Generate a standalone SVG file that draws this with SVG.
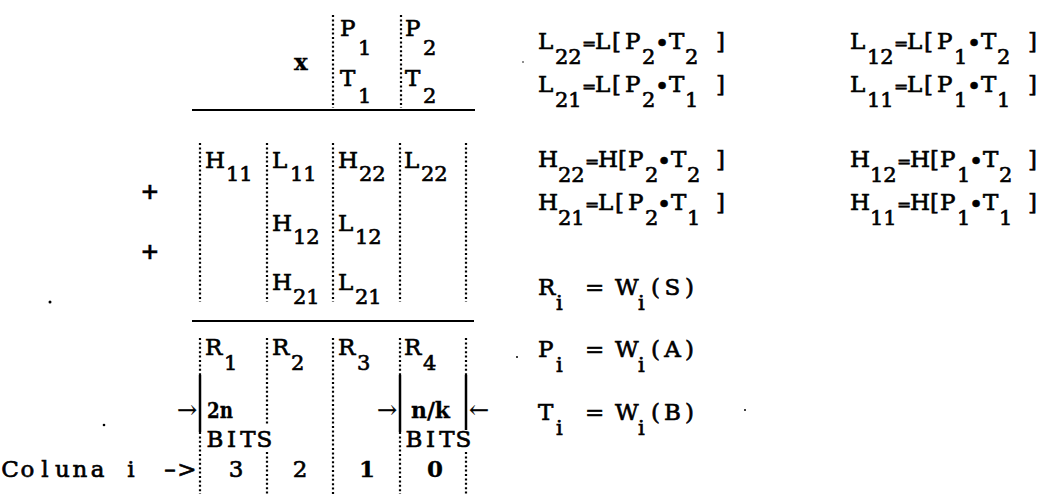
<svg xmlns="http://www.w3.org/2000/svg" width="1042" height="494" viewBox="0 0 1042 494">
<style>
.t{font-family:"DejaVu Serif","Liberation Serif",serif;font-size:23px;fill:#000;stroke:#000;stroke-width:0.65}
.s{font-size:21px}
.b{font-weight:bold;stroke-width:0.3}
.eq{font-size:17px}
.bu{font-size:24px}
.ar{font-size:24px;stroke-width:0.2}
.dot{stroke:#000;stroke-width:2.2;stroke-dasharray:2 2.4;fill:none}
.sol{stroke:#000;stroke-width:2.5;fill:none}
.rule{stroke:#000;stroke-width:2.2;fill:none}
.speck{fill:#000}
</style>
<rect width="1042" height="494" fill="#fff"/>
<g id="connectors">
<line class="dot" x1="333" y1="15" x2="333" y2="108"/>
<line class="dot" x1="401" y1="15" x2="401" y2="108"/>
<line class="rule" x1="192" y1="110" x2="475" y2="110"/>
<line class="dot" x1="200" y1="143" x2="200" y2="302"/>
<line class="dot" x1="267" y1="143" x2="267" y2="302"/>
<line class="dot" x1="333" y1="143" x2="333" y2="302"/>
<line class="dot" x1="400" y1="143" x2="400" y2="302"/>
<line class="dot" x1="466" y1="143" x2="466" y2="302"/>
<line class="rule" x1="192" y1="321" x2="474" y2="321"/>
<line class="dot" x1="200" y1="338" x2="200" y2="375"/>
<line class="sol" x1="200" y1="375" x2="200" y2="432"/>
<line class="dot" x1="200" y1="432" x2="200" y2="494"/>
<line class="dot" x1="267" y1="338" x2="267" y2="424"/>
<line class="dot" x1="267" y1="452" x2="267" y2="494"/>
<line class="dot" x1="333" y1="338" x2="333" y2="494"/>
<line class="dot" x1="400" y1="338" x2="400" y2="375"/>
<line class="sol" x1="400" y1="375" x2="400" y2="432"/>
<line class="dot" x1="400" y1="432" x2="400" y2="494"/>
<line class="dot" x1="466" y1="338" x2="466" y2="375"/>
<line class="sol" x1="466" y1="375" x2="466" y2="430"/>
<line class="dot" x1="466" y1="452" x2="466" y2="494"/>
</g>
<g id="multiplicand">
<text class="t b" x="294" y="70">x</text>
<text class="t" y="36"><tspan x="340">P</tspan><tspan class="s" x="358" y="55">1</tspan></text>
<text class="t" y="86"><tspan x="340">T</tspan><tspan class="s" x="358" y="103">1</tspan></text>
<text class="t" y="36"><tspan x="405">P</tspan><tspan class="s" x="423" y="55">2</tspan></text>
<text class="t" y="86"><tspan x="405">T</tspan><tspan class="s" x="423" y="103">2</tspan></text>
</g>
<g id="partials">
<text class="t b" x="150" y="199" text-anchor="middle">+</text>
<text class="t b" x="150" y="259" text-anchor="middle">+</text>
<text class="t" y="168"><tspan x="205">H</tspan><tspan class="s" x="226" y="181">11</tspan></text>
<text class="t" y="168"><tspan x="272">L</tspan><tspan class="s" x="290" y="181">11</tspan></text>
<text class="t" y="168"><tspan x="338">H</tspan><tspan class="s" x="359" y="181">22</tspan></text>
<text class="t" y="168"><tspan x="404">L</tspan><tspan class="s" x="421" y="181">22</tspan></text>
<text class="t" y="231"><tspan x="272">H</tspan><tspan class="s" x="293" y="244">12</tspan></text>
<text class="t" y="231"><tspan x="338">L</tspan><tspan class="s" x="355" y="244">12</tspan></text>
<text class="t" y="290"><tspan x="272">H</tspan><tspan class="s" x="293" y="304">21</tspan></text>
<text class="t" y="290"><tspan x="338">L</tspan><tspan class="s" x="355" y="304">21</tspan></text>
</g>
<g id="result">
<text class="t" y="355"><tspan x="205">R</tspan><tspan class="s" x="224" y="370">1</tspan></text>
<text class="t" y="355"><tspan x="272">R</tspan><tspan class="s" x="291" y="370">2</tspan></text>
<text class="t" y="355"><tspan x="338">R</tspan><tspan class="s" x="357" y="370">3</tspan></text>
<text class="t" y="355"><tspan x="404">R</tspan><tspan class="s" x="423" y="370">4</tspan></text>
<text class="t ar" x="177" y="418">→</text>
<text class="t b" x="207" y="418" textLength="26" lengthAdjust="spacingAndGlyphs">2n</text>
<text class="t ar" x="377" y="418">→</text>
<text class="t b" x="411" y="418" textLength="39" lengthAdjust="spacingAndGlyphs">n/k</text>
<text class="t ar" x="469" y="418">←</text>
<text class="t" y="447" text-anchor="middle"><tspan x="215">B</tspan><tspan x="231.5">I</tspan><tspan x="248">T</tspan><tspan x="264.5">S</tspan></text>
<text class="t" y="447" text-anchor="middle"><tspan x="414">B</tspan><tspan x="430.5">I</tspan><tspan x="447">T</tspan><tspan x="463.5">S</tspan></text>
<text class="t" y="477" text-anchor="middle"><tspan x="10">C</tspan><tspan x="27.5">o</tspan><tspan x="45">l</tspan><tspan x="62.5">u</tspan><tspan x="80">n</tspan><tspan x="97.5">a</tspan><tspan x="131">i</tspan><tspan x="170">–</tspan><tspan x="187">&gt;</tspan></text>
<text class="t" x="236" y="477" text-anchor="middle">3</text>
<text class="t" x="300" y="477" text-anchor="middle">2</text>
<text class="t b" x="367" y="477" text-anchor="middle">1</text>
<text class="t b" x="435" y="477" text-anchor="middle">0</text>
</g>
<g id="eq-L22"><text class="t" y="49"><tspan x="538">L</tspan><tspan class="s" x="555" y="64">22</tspan><tspan class="eq" x="582" y="49">=</tspan><tspan x="595">L</tspan><tspan x="612">[</tspan><tspan x="625">P</tspan><tspan class="s" x="642" y="64">2</tspan><tspan class="bu" x="655" y="52">•</tspan><tspan x="669" y="49">T</tspan><tspan class="s" x="685" y="64">2</tspan><tspan x="716" y="49">]</tspan></text></g>
<g id="eq-L21"><text class="t" y="92"><tspan x="538">L</tspan><tspan class="s" x="555" y="107">21</tspan><tspan class="eq" x="582" y="92">=</tspan><tspan x="595">L</tspan><tspan x="612">[</tspan><tspan x="625">P</tspan><tspan class="s" x="642" y="107">2</tspan><tspan class="bu" x="655" y="95">•</tspan><tspan x="669" y="92">T</tspan><tspan class="s" x="685" y="107">1</tspan><tspan x="716" y="92">]</tspan></text></g>
<g id="eq-H22"><text class="t" y="167"><tspan x="538">H</tspan><tspan class="s" x="558" y="182">22</tspan><tspan class="eq" x="585" y="167">=</tspan><tspan x="598">H</tspan><tspan x="618">[</tspan><tspan x="628">P</tspan><tspan class="s" x="645" y="182">2</tspan><tspan class="bu" x="657" y="170">•</tspan><tspan x="671" y="167">T</tspan><tspan class="s" x="687" y="182">2</tspan><tspan x="716" y="167">]</tspan></text></g>
<g id="eq-H21"><text class="t" y="210"><tspan x="538">H</tspan><tspan class="s" x="558" y="225">21</tspan><tspan class="eq" x="585" y="210">=</tspan><tspan x="598">L</tspan><tspan x="615">[</tspan><tspan x="628">P</tspan><tspan class="s" x="645" y="225">2</tspan><tspan class="bu" x="657" y="213">•</tspan><tspan x="671" y="210">T</tspan><tspan class="s" x="687" y="225">1</tspan><tspan x="716" y="210">]</tspan></text></g>
<g id="eq-L12"><text class="t" y="49"><tspan x="850">L</tspan><tspan class="s" x="867" y="64">12</tspan><tspan class="eq" x="894" y="49">=</tspan><tspan x="907">L</tspan><tspan x="924">[</tspan><tspan x="937">P</tspan><tspan class="s" x="954" y="64">1</tspan><tspan class="bu" x="967" y="52">•</tspan><tspan x="981" y="49">T</tspan><tspan class="s" x="997" y="64">2</tspan><tspan x="1028" y="49">]</tspan></text></g>
<g id="eq-L11"><text class="t" y="92"><tspan x="850">L</tspan><tspan class="s" x="867" y="107">11</tspan><tspan class="eq" x="894" y="92">=</tspan><tspan x="907">L</tspan><tspan x="924">[</tspan><tspan x="937">P</tspan><tspan class="s" x="954" y="107">1</tspan><tspan class="bu" x="967" y="95">•</tspan><tspan x="981" y="92">T</tspan><tspan class="s" x="997" y="107">1</tspan><tspan x="1028" y="92">]</tspan></text></g>
<g id="eq-H12"><text class="t" y="167"><tspan x="850">H</tspan><tspan class="s" x="870" y="182">12</tspan><tspan class="eq" x="897" y="167">=</tspan><tspan x="910">H</tspan><tspan x="930">[</tspan><tspan x="940">P</tspan><tspan class="s" x="957" y="182">1</tspan><tspan class="bu" x="969" y="170">•</tspan><tspan x="983" y="167">T</tspan><tspan class="s" x="999" y="182">2</tspan><tspan x="1028" y="167">]</tspan></text></g>
<g id="eq-H11"><text class="t" y="210"><tspan x="850">H</tspan><tspan class="s" x="870" y="225">11</tspan><tspan class="eq" x="897" y="210">=</tspan><tspan x="910">H</tspan><tspan x="930">[</tspan><tspan x="940">P</tspan><tspan class="s" x="957" y="225">1</tspan><tspan class="bu" x="969" y="213">•</tspan><tspan x="983" y="210">T</tspan><tspan class="s" x="999" y="225">1</tspan><tspan x="1028" y="210">]</tspan></text></g>
<g id="eq-R"><text class="t" y="295"><tspan x="538">R</tspan><tspan class="s" x="556" y="310">i</tspan><tspan x="585" y="295">=</tspan><tspan x="615">W</tspan><tspan class="s" x="638" y="310">i</tspan><tspan x="651" y="295" textLength="43" lengthAdjust="spacing">(S)</tspan></text></g>
<g id="eq-P"><text class="t" y="357"><tspan x="538">P</tspan><tspan class="s" x="556" y="372">i</tspan><tspan x="585" y="357">=</tspan><tspan x="615">W</tspan><tspan class="s" x="638" y="372">i</tspan><tspan x="651" y="357" textLength="43" lengthAdjust="spacing">(A)</tspan></text></g>
<g id="eq-T"><text class="t" y="420"><tspan x="538">T</tspan><tspan class="s" x="556" y="435">i</tspan><tspan x="585" y="420">=</tspan><tspan x="615">W</tspan><tspan class="s" x="638" y="435">i</tspan><tspan x="651" y="420" textLength="43" lengthAdjust="spacing">(B)</tspan></text></g>
<g id="specks">
<circle class="speck" cx="50" cy="302" r="1.5"/>
<circle class="speck" cx="104" cy="425" r="1.3"/>
<circle class="speck" cx="517" cy="357" r="1"/>
<circle class="speck" cx="745" cy="410" r="1"/>
<circle class="speck" cx="523" cy="62" r="0.8"/>
</g>
</svg>
